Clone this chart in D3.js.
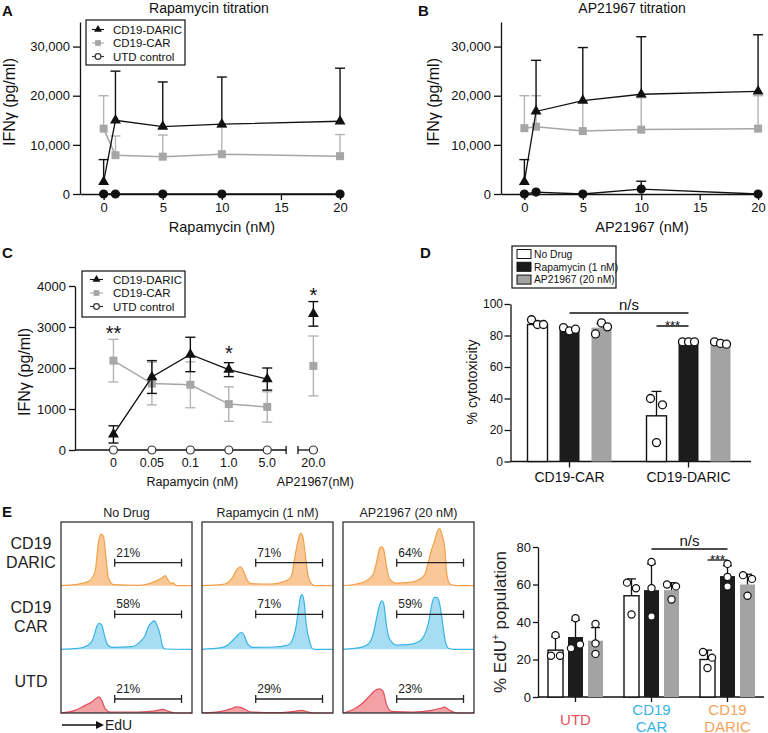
<!DOCTYPE html>
<html><head><meta charset="utf-8">
<script src="https://cdn.jsdelivr.net/npm/d3@7"></script>
<style>body{margin:0;background:#fff}svg{display:block}</style>
</head><body><svg id="c" width="768" height="733"></svg>
<script>
// ---------------- DATA ----------------
const seriesNames = ["CD19-DARIC", "CD19-CAR", "UTD control"];
const yTicksAB = [0, 10000, 20000, 30000];
const xTicksAB = [0, 5, 10, 15, 20];
// Panel A: rapamycin titration (mean, SD)
const concA = [0, 1, 5, 10, 20];
const darA = [2500, 15000, 13700, 14200, 14800];
const darAsd = [4500, 10000, 9100, 9600, 10800];
const carA = [13300, 7900, 7600, 8100, 7700];
const carAsd = [6700, 3900, 4400, 5500, 4400];
const utdA = [0, 0, 0, 0, 0];
const utdAsd = [0, 0, 0, 0, 0];
// Panel B: AP21967 titration
const concB = [0, 1, 5, 10, 20];
const darB = [2500, 16800, 19000, 20300, 20900];
const darBsd = [4500, 10400, 10800, 11700, 11500];
const carB = [13400, 13700, 12800, 13100, 13300];
const carBsd = [6600, 6300, 6000, 6500, 6700];
const utdB = [0, 400, 0, 1000, 0];
const utdBsd = [0, 0, 0, 1600, 0];
// Panel C
const catsC = ["0", "0.05", "0.1", "1.0", "5.0", "20.0"];
const yTicksC = [0, 1000, 2000, 3000, 4000];
const darC = [380, 1780, 2330, 1960, 1730, 3320];
const darCsd = [210, 400, 420, 170, 270, 300];
const carC = [2180, 1620, 1590, 1120, 1050, 2050];
const carCsd = [520, 520, 560, 420, 370, 730];
const utdC = [0, 0, 0, 0, 0, 0];
const starsC = ["**", "", "", "*", "", "*"];
// Panel D
const condNames = ["No Drug", "Rapamycin (1 nM)", "AP21967 (20 nM)"];
const groupsD = ["CD19-CAR", "CD19-DARIC"];
const yTicksD = [0, 20, 40, 60, 80, 100];
const meansD = [[87, 83.5, 85], [29, 75.5, 75]];
const sdD = [[2, 1.2, 2.5], [15.5, 0.6, 0.8]];
const pointsD = [
  [[90, 87, 87], [85, 83, 84], [81, 88, 85.5]],
  [[40, 36, 12], [76, 76, 76], [76, 75, 74.5]]
];
// Panel E histograms
const histCols = ["No Drug", "Rapamycin (1 nM)", "AP21967 (20 nM)"];
const histRows = [["CD19", "DARIC"], ["CD19", "CAR"], ["UTD"]];
const gatePct = [[21, 71, 64], [58, 71, 59], [21, 29, 23]];
const histDaricND = [[0,0],[10.7,1.5],[21,6.7],[26,22],[28.6,68],[30.4,81],[32.4,78],[34.2,47],[36.2,12],[40,1.5],[59,0.5],[72,6.7],[77,12],[79.6,16],[81.6,9],[84,4],[86,4],[87.8,0],[100,0]];
const histCarND = [[0,0],[13.3,1.6],[20.9,6.8],[24.7,17.4],[27.3,35.8],[29.1,41],[31.1,38],[33.2,22],[35.7,6.8],[38.8,3.2],[54,4.2],[60.5,12],[64.3,22],[66.8,35.8],[69.4,42.6],[71.4,44.7],[73.2,38.4],[75.8,22],[77.6,4.2],[79.6,0.5],[100,0]];
const histUtdND = [[0,0],[10.7,4.2],[18.4,12],[23.5,17.4],[27.3,23.7],[29.1,25.3],[31.1,20],[33.7,6.8],[37.5,1.6],[59.2,1.6],[72,3.2],[77.6,5.8],[82.1,2.6],[87.2,0],[100,0]];
const histDaricRap = [[0,0],[14.8,1.5],[19.8,5.1],[23.7,14.4],[26.2,24.6],[29.3,29.7],[31.3,24.6],[33.8,11.8],[37.7,3.1],[52.9,2.6],[63.1,6.7],[68.2,14.4],[70.7,42.6],[73.3,70.8],[75.3,82.6],[77.1,75.9],[78.9,47.7],[80.9,16.9],[83.5,3.1],[86,0],[100,0]];
const histCarRap = [[0,0],[14.8,2.6],[19.8,6.8],[23.7,14.7],[27.5,22.6],[30,26.8],[32.1,22.6],[34.6,9.5],[38.9,3.2],[55.5,3.7],[65.6,6.8],[69.5,17.4],[72,38.4],[73.8,64.7],[75.3,83],[76.3,85.8],[77.9,75.3],[79.6,38.4],[82.2,12],[84,1.6],[86,0],[100,0]];
const histUtdRap = [[0,0],[14.8,2.6],[22.4,6.8],[26.2,9.5],[30,8.4],[32.6,5.8],[37.7,1.6],[58,0.5],[70.7,2.6],[76.3,4.2],[80.9,1.6],[86,0],[100,0]];
const histDaricAP = [[0,0],[10.2,2.6],[17.9,7.7],[23,17.9],[25.5,35.9],[27.6,56.4],[29.3,61.5],[31.1,56.4],[33.2,30.8],[35.7,10.3],[40.8,4.1],[51,5.1],[58.7,10.3],[62.5,17.9],[65,35.9],[67.6,56.4],[70.2,71.8],[71.9,84.6],[73.5,89.7],[75.3,82],[77.8,56.4],[79.1,20.5],[81.6,2.6],[86.7,0],[100,0]];
const histCarAP = [[0,0],[12.8,2.6],[19.1,7.9],[23,23.7],[25.5,47.4],[28.1,71],[29.8,76.3],[31.4,68.4],[33.2,36.8],[35.7,15.8],[40.8,6.8],[51,7.9],[58.7,13.2],[62.5,23.7],[65,39.5],[67.6,68.4],[69.6,81.6],[71.4,81.6],[73.5,73.7],[75.3,52.6],[77.8,15.8],[80.4,1.6],[84.2,0],[100,0]];
const histUtdAP = [[0,0],[7.7,5.4],[15.3,16.2],[20.4,27],[24.2,35],[28.1,37.8],[30.6,34],[33.2,13.5],[37,2.7],[53.6,1.6],[66.3,3.8],[74,7],[77.8,9.2],[80.4,5.4],[84.2,1.6],[88,0],[100,0]];
const histData = [
  [histDaricND, histDaricRap, histDaricAP],
  [histCarND, histCarRap, histCarAP],
  [histUtdND, histUtdRap, histUtdAP]
];
const gateRange = [41, 92];
// Panel E bar chart
const groupsE = ["UTD", "CD19 CAR", "CD19 DARIC"];
const yTicksE = [0, 20, 40, 60, 80];
const meansE = [[25, 32, 30], [54, 57, 57], [20, 64.5, 60]];
const sdE = [[7, 9, 7], [9, 14, 4], [5, 5.5, 5.5]];
const pointsE = [
  [[33, 22, 22], [26, 42, 28], [39, 28.6, 23]],
  [[61, 58, 44], [72, 58, 43], [60, 59, 52]],
  [[24, 21, 15.5], [71, 64, 59], [65, 63, 54]]
];

// ---------------- STYLE ----------------
const F = '"Liberation Sans", Arial, Helvetica, sans-serif';
const INK = "#111";
const CARGRAY = "#a6a6a6", CARERR = "#b4b4b4";
const rowColors = [
  {fill: "#f9c896", stroke: "#f2a04a"},
  {fill: "#a6ddf3", stroke: "#38b4e4"},
  {fill: "#f3a1a5", stroke: "#e0515c"}
];
const labColorsE = ["#e8525c", "#38b4e4", "#f4a35a"];
const barFills = ["#fff", "#1c1c1c", "#a3a3a3"];

const svg = d3.select("#c");

function txt(g, x, y, s, size, o = {}) {
  const t = g.append("text").attr("x", x).attr("y", y)
    .attr("font-size", size).attr("font-family", o.family || F)
    .attr("fill", o.fill || INK).attr("text-anchor", o.anchor || "middle").text(s);
  if (o.weight) t.attr("font-weight", o.weight);
  if (o.rotate) t.attr("transform", `rotate(-90,${x},${y})`);
  return t;
}
function styleAxis(g, size) {
  g.attr("font-family", F).attr("font-size", size);
  g.selectAll("path,line").attr("stroke", INK).attr("stroke-width", 1.3);
  g.selectAll("text").attr("fill", INK);
}
function marker(g, cx, cy, type, fill, stroke, k = 1) {
  if (type === "triangle") {
    g.append("path").attr("d", d3.symbol(d3.symbolTriangle, 52 * k * k)())
      .attr("transform", `translate(${cx},${cy})`).attr("fill", fill);
  } else if (type === "square") {
    const s = 8 * k;
    g.append("rect").attr("x", cx - s / 2).attr("y", cy - s / 2).attr("width", s).attr("height", s).attr("fill", fill);
  } else {
    g.append("circle").attr("cx", cx).attr("cy", cy).attr("r", 4 * k)
      .attr("fill", fill).attr("stroke", stroke || fill).attr("stroke-width", 1.2);
  }
}
function series(g, xs, y, vals, sds, s) {
  const pts = vals.map((v, i) => ({x: xs[i], v, sd: sds ? sds[i] : 0}));
  pts.forEach(p => {
    if (!p.sd) return;
    const top = y(p.v + p.sd), bot = s.up ? y(p.v) : y(p.v - p.sd);
    g.append("line").attr("x1", p.x).attr("x2", p.x).attr("y1", bot).attr("y2", top)
      .attr("stroke", s.err).attr("stroke-width", 1.4);
    g.append("line").attr("x1", p.x - 5).attr("x2", p.x + 5).attr("y1", top).attr("y2", top)
      .attr("stroke", s.err).attr("stroke-width", 1.4);
    if (!s.up) g.append("line").attr("x1", p.x - 5).attr("x2", p.x + 5).attr("y1", bot).attr("y2", bot)
      .attr("stroke", s.err).attr("stroke-width", 1.4);
  });
  g.append("path").attr("d", d3.line().x(p => p.x).y(p => y(p.v))(pts))
    .attr("fill", "none").attr("stroke", s.line).attr("stroke-width", s.lw || 1.3);
  pts.forEach(p => marker(g, p.x, y(p.v), s.sym, s.fill, s.stroke));
}
function lineLegend(g, x, y, w, h, rowY, lineX, textX, size) {
  g.append("rect").attr("x", x).attr("y", y).attr("width", w).attr("height", h)
    .attr("fill", "#fff").attr("stroke", INK).attr("stroke-width", 1.2);
  const specs = [
    {sym: "triangle", fill: INK, line: INK},
    {sym: "square", fill: CARGRAY, line: CARGRAY},
    {sym: "circle", fill: "#fff", stroke: "#333", line: "#333"}
  ];
  seriesNames.forEach((n, i) => {
    const yy = rowY[i];
    g.append("line").attr("x1", lineX[0]).attr("x2", lineX[1]).attr("y1", yy).attr("y2", yy)
      .attr("stroke", specs[i].line).attr("stroke-width", 1.1);
    marker(g, (lineX[0] + lineX[1]) / 2, yy, specs[i].sym, specs[i].fill, specs[i].stroke, 0.72);
    txt(g, textX, yy, n, size, {anchor: "start"}).attr("dy", "0.36em");
  });
}
function dodge(vals, y, thr, width) {
  const n = vals.length, parent = d3.range(n);
  const find = i => parent[i] === i ? i : (parent[i] = find(parent[i]));
  for (let i = 0; i < n; i++) for (let j = i + 1; j < n; j++)
    if (Math.abs(y(vals[i]) - y(vals[j])) < thr) parent[find(i)] = find(j);
  const groups = d3.group(d3.range(n), i => find(i));
  const off = new Array(n).fill(0);
  groups.forEach(idx => {
    const m = idx.length;
    if (m > 1) idx.forEach((i, k) => off[i] = -width / 2 + k * width / (m - 1));
  });
  return off;
}

// ---------------- PANELS A & B ----------------
function titration(o) {
  const x = d3.scaleLinear([-2, 20.25], [o.left, o.right]);
  const y = d3.scaleLinear([0, 35000], [194, 22]);
  const g = svg.append("g");
  g.append("g").attr("transform", `translate(${o.left},0)`)
    .call(d3.axisLeft(y).tickValues(yTicksAB).tickFormat(d3.format(",")).tickSize(7).tickSizeOuter(0))
    .call(styleAxis, 13);
  g.append("g").attr("transform", "translate(0,194)")
    .call(d3.axisBottom(x).tickValues(xTicksAB).tickSize(6).tickSizeOuter(0))
    .call(styleAxis, 13);
  txt(g, o.titleX, 13, o.title, 14);
  txt(g, o.xlabX, 232, o.xlabel, 14.5);
  txt(g, o.ylabX, 102, "IFNγ (pg/ml)", 16, {rotate: true});
  const xs = o.conc.map(c => x(c));
  series(g, xs, y, o.car, o.carSd, {line: CARGRAY, err: CARERR, sym: "square", fill: CARGRAY, up: true, lw: 1.5});
  series(g, xs, y, o.dar, o.darSd, {line: INK, err: INK, sym: "triangle", fill: INK, up: true});
  series(g, xs, y, o.utd, o.utdSd, {line: INK, err: INK, sym: "circle", fill: INK, up: true});
  return g;
}
const gA = titration({left: 80, right: 343, conc: concA, dar: darA, darSd: darAsd, car: carA, carSd: carAsd,
  utd: utdA, utdSd: utdAsd, title: "Rapamycin titration", titleX: 209, xlabel: "Rapamycin (nM)", xlabX: 222, ylabX: 15});
lineLegend(gA, 86, 20, 99, 45, [29.5, 43, 56.5], [92, 104], 113, 11.5);
titration({left: 501, right: 761, conc: concB, dar: darB, darSd: darBsd, car: carB, carSd: carBsd,
  utd: utdB, utdSd: utdBsd, title: "AP21967 titration", titleX: 632, xlabel: "AP21967 (nM)", xlabX: 642, ylabX: 439});
txt(svg, 2, 16, "A", 15, {anchor: "start", weight: "bold"});
txt(svg, 418, 16, "B", 15, {anchor: "start", weight: "bold"});

// ---------------- PANEL C ----------------
{
  const g = svg.append("g");
  const xC = d3.scaleLinear([-1, 5.32], [75, 318]);
  const yC = d3.scaleLinear([0, 4000], [450, 286]);
  const posC = i => i < 5 ? i : i + 0.2;
  g.append("g").attr("transform", `translate(${xC(-1)},0)`)
    .call(d3.axisLeft(yC).tickValues(yTicksC).tickFormat(d3.format("d")).tickSize(6).tickSizeOuter(0))
    .call(styleAxis, 13);
  const y0 = yC(0);
  const ax = [[-1, 4.49], [4.8, 5.32]];
  ax.forEach(([a, b]) => g.append("line").attr("x1", xC(a)).attr("x2", xC(b)).attr("y1", y0).attr("y2", y0)
    .attr("stroke", INK).attr("stroke-width", 1.3));
  [4.49, 4.8].forEach(b => g.append("line").attr("x1", xC(b)).attr("x2", xC(b)).attr("y1", y0 - 4).attr("y2", y0 + 4)
    .attr("stroke", INK).attr("stroke-width", 1.3));
  catsC.forEach((c, i) => txt(g, xC(posC(i)), 467, c, 12.5));
  txt(g, (xC(0) + xC(4)) / 2 + 2, 486, "Rapamycin (nM)", 12.5);
  txt(g, xC(posC(5)) + 2, 486, "AP21967(nM)", 12.5);
  txt(g, 30, 372, "IFNγ (pg/ml)", 16, {rotate: true});
  const xs = catsC.map((c, i) => xC(posC(i)));
  const idx5 = [0, 1, 2, 3, 4];
  series(g, idx5.map(i => xs[i]), yC, idx5.map(i => carC[i]), idx5.map(i => carCsd[i]),
    {line: CARGRAY, err: CARERR, sym: "square", fill: CARGRAY, lw: 1.5});
  series(g, [xs[5]], yC, [carC[5]], [carCsd[5]], {line: CARGRAY, err: CARERR, sym: "square", fill: CARGRAY});
  series(g, idx5.map(i => xs[i]), yC, idx5.map(i => darC[i]), idx5.map(i => darCsd[i]),
    {line: INK, err: INK, sym: "triangle", fill: INK});
  series(g, [xs[5]], yC, [darC[5]], [darCsd[5]], {line: INK, err: INK, sym: "triangle", fill: INK});
  xs.forEach((x, i) => marker(g, x, yC(utdC[i]), "circle", "#fff", "#333"));
  const starY = [340, 0, 0, 360, 0, 302];
  starsC.forEach((s, i) => { if (s) txt(g, xs[i], starY[i], s, 20); });
  lineLegend(g, 82, 271, 103, 46, [279.5, 293, 306.5], [90, 103], 113, 11.5);
  txt(svg, 2, 258, "C", 15, {anchor: "start", weight: "bold"});
}

// ---------------- PANEL D ----------------
{
  const g = svg.append("g");
  const yD = d3.scaleLinear([0, 100], [461.5, 304]);
  const xD = d3.scaleBand(groupsD, [510, 748]);
  const sub = d3.scaleBand(condNames, [-48, 48]).paddingInner(0.375).paddingOuter(0.1875);
  g.append("g").attr("transform", "translate(510.5,0)")
    .call(d3.axisLeft(yD).tickValues(yTicksD).tickSize(6).tickPadding(1.5).tickSizeOuter(0))
    .call(styleAxis, 12);
  const xa = g.append("g").attr("transform", `translate(0,${yD(0)})`)
    .call(d3.axisBottom(xD).tickSize(6).tickPadding(5).tickSizeOuter(0))
    .call(styleAxis, 14);
  xa.select(".domain").attr("d", `M510.5,0H751`);
  txt(g, 477, 382, "% cytotoxicity", 14, {rotate: true});
  groupsD.forEach((gr, gi) => {
    condNames.forEach((cn, ci) => {
      const cx = xD(gr) + xD.bandwidth() / 2 + sub(cn) + sub.bandwidth() / 2;
      const bw = sub.bandwidth(), m = meansD[gi][ci], sd = sdD[gi][ci];
      g.append("rect").attr("x", cx - bw / 2).attr("y", yD(m)).attr("width", bw).attr("height", yD(0) - yD(m))
        .attr("fill", barFills[ci]).attr("stroke", ci === 0 ? INK : "none").attr("stroke-width", 1.4);
      g.append("line").attr("x1", cx).attr("x2", cx).attr("y1", yD(m)).attr("y2", yD(m + sd)).attr("stroke", INK).attr("stroke-width", 1.3);
      g.append("line").attr("x1", cx - 5).attr("x2", cx + 5).attr("y1", yD(m + sd)).attr("y2", yD(m + sd)).attr("stroke", INK).attr("stroke-width", 1.3);
      const pv = pointsD[gi][ci], off = dodge(pv, yD, 8, 12);
      pv.forEach((v, k) => g.append("circle").attr("cx", cx + off[k]).attr("cy", yD(v)).attr("r", 4)
        .attr("fill", "#fff").attr("stroke", INK).attr("stroke-width", 1.3));
    });
  });
  const cxOf = (gi, ci) => xD(groupsD[gi]) + xD.bandwidth() / 2 + sub(condNames[ci]) + sub.bandwidth() / 2;
  g.append("line").attr("x1", cxOf(0, 1)).attr("x2", cxOf(1, 1)).attr("y1", 313).attr("y2", 313).attr("stroke", INK).attr("stroke-width", 1.3);
  txt(g, (cxOf(0, 1) + cxOf(1, 1)) / 2, 310, "n/s", 15);
  g.append("line").attr("x1", cxOf(1, 0)).attr("x2", cxOf(1, 1)).attr("y1", 326).attr("y2", 326).attr("stroke", INK).attr("stroke-width", 1.3);
  txt(g, (cxOf(1, 0) + cxOf(1, 1)) / 2, 330, "***", 13);
  g.append("rect").attr("x", 512).attr("y", 246).attr("width", 104).attr("height", 42)
    .attr("fill", "#fff").attr("stroke", INK).attr("stroke-width", 1.2);
  condNames.forEach((cn, i) => {
    const yy = 254 + i * 12.8;
    g.append("rect").attr("x", 517).attr("y", yy - 4.5).attr("width", 14).attr("height", 9)
      .attr("fill", barFills[i]).attr("stroke", INK).attr("stroke-width", 1);
    txt(g, 534, yy, cn, 10.3, {anchor: "start"}).attr("dy", "0.36em");
  });
  txt(svg, 420, 258, "D", 15, {anchor: "start", weight: "bold"});
}

// ---------------- PANEL E histograms ----------------
{
  const g = svg.append("g");
  const colX = d3.scaleBand(histCols, [61, 474]).paddingInner(0.0709);
  const rowY = d3.scaleBand(d3.range(3), [522, 713]);
  const gateLift = [23, 35, 14];
  histCols.forEach((c, ci) => {
    const x = d3.scaleLinear([0, 100], [colX(c), colX(c) + colX.bandwidth()]);
    txt(g, x(50), 517, c, 12.5, {fill: "#222"});
    histRows.forEach((r, ri) => {
      const base = rowY(ri) + rowY.bandwidth();
      const y = d3.scaleLinear([0, 100], [base, rowY(ri)]);
      const d = histData[ri][ci];
      g.append("path").attr("d", d3.area().x(p => x(p[0])).y0(base).y1(p => y(p[1])).curve(d3.curveMonotoneX)(d))
        .attr("fill", rowColors[ri].fill);
      g.append("path").attr("d", d3.line().x(p => x(p[0])).y(p => y(p[1])).curve(d3.curveMonotoneX)(d))
        .attr("fill", "none").attr("stroke", rowColors[ri].stroke).attr("stroke-width", 1.2);
      const gy = base - gateLift[ri];
      const gx0 = x(gateRange[0]), gx1 = x(gateRange[1]);
      g.append("line").attr("x1", gx0).attr("x2", gx1).attr("y1", gy).attr("y2", gy).attr("stroke", "#222").attr("stroke-width", 1.3);
      [gx0, gx1].forEach(gx => g.append("line").attr("x1", gx).attr("x2", gx).attr("y1", gy - 4).attr("y2", gy + 4)
        .attr("stroke", "#222").attr("stroke-width", 1.3));
      txt(g, gx0 + 1.5, gy - 6, gatePct[ri][ci] + "%", 12, {anchor: "start", fill: "#222"});
    });
    g.append("rect").attr("x", colX(c)).attr("y", 522).attr("width", colX.bandwidth()).attr("height", 191)
      .attr("fill", "none").attr("stroke", "#333").attr("stroke-width", 1.3);
  });
  histRows.forEach((r, ri) => {
    const cy = rowY(ri) + rowY.bandwidth() / 2;
    if (r.length === 2) {
      txt(g, 31, cy - 4.5, r[0], 16, {fill: "#222"});
      txt(g, 31, cy + 14.5, r[1], 16, {fill: "#222"});
    } else txt(g, 31, cy + 5.5, r[0], 16, {fill: "#222"});
  });
  g.append("line").attr("x1", 62).attr("x2", 97).attr("y1", 725).attr("y2", 725).attr("stroke", INK).attr("stroke-width", 1.3);
  g.append("path").attr("d", "M96,721L104,725L96,729Z").attr("fill", INK);
  txt(g, 105, 730, "EdU", 14, {anchor: "start", fill: "#222"});
  txt(svg, 2, 517, "E", 15, {anchor: "start", weight: "bold"});
}

// ---------------- PANEL E bar chart ----------------
{
  const g = svg.append("g");
  const yE = d3.scaleLinear([0, 80], [697, 547]);
  const xE = d3.scaleBand(groupsE, [537.5, 765.5]);
  const sub = d3.scaleBand(condNames, [-30, 30]).paddingInner(0.25).paddingOuter(0.125);
  g.append("g").attr("transform", "translate(538,0)")
    .call(d3.axisLeft(yE).tickValues(yTicksE).tickSize(5).tickPadding(2).tickSizeOuter(0))
    .call(styleAxis, 13);
  const xa = g.append("g").attr("transform", `translate(0,${yE(0)})`)
    .call(d3.axisBottom(xE).tickSize(5).tickFormat("").tickSizeOuter(0))
    .call(styleAxis, 13);
  xa.select(".domain").attr("d", "M538,0H764");
  const ylab = txt(g, 506, 622, "% EdU", 17, {rotate: true, fill: "#222"});
  ylab.append("tspan").attr("dy", -7).attr("font-size", 10).text("+");
  ylab.append("tspan").attr("dy", 7).text(" population");
  groupsE.forEach((gr, gi) => {
    const gc = xE(gr) + xE.bandwidth() / 2;
    const parts = gr.split(" ");
    if (parts.length === 1) txt(g, gc, 725, parts[0], 15, {fill: labColorsE[gi]});
    else {
      txt(g, gc, 715, parts[0], 15, {fill: labColorsE[gi]});
      txt(g, gc, 731.5, parts[1], 15, {fill: labColorsE[gi]});
    }
    condNames.forEach((cn, ci) => {
      const cx = gc + sub(cn) + sub.bandwidth() / 2;
      const bw = sub.bandwidth(), m = meansE[gi][ci], sd = sdE[gi][ci];
      g.append("rect").attr("x", cx - bw / 2).attr("y", yE(m)).attr("width", bw).attr("height", yE(0) - yE(m))
        .attr("fill", barFills[ci]).attr("stroke", ci === 0 ? INK : "none").attr("stroke-width", 1.4);
      g.append("line").attr("x1", cx).attr("x2", cx).attr("y1", yE(m)).attr("y2", yE(m + sd)).attr("stroke", INK).attr("stroke-width", 1.3);
      g.append("line").attr("x1", cx - 4.5).attr("x2", cx + 4.5).attr("y1", yE(m + sd)).attr("y2", yE(m + sd)).attr("stroke", INK).attr("stroke-width", 1.3);
      const pv = pointsE[gi][ci], off = dodge(pv, yE, 8, 9);
      pv.forEach((v, k) => g.append("circle").attr("cx", cx + off[k]).attr("cy", yE(v)).attr("r", 3.6)
        .attr("fill", "#fff").attr("stroke", INK).attr("stroke-width", 1.2));
    });
  });
  const cxOf = (gi, ci) => xE(groupsE[gi]) + xE.bandwidth() / 2 + sub(condNames[ci]) + sub.bandwidth() / 2;
  g.append("line").attr("x1", cxOf(1, 1)).attr("x2", cxOf(2, 1)).attr("y1", 549).attr("y2", 549).attr("stroke", INK).attr("stroke-width", 1.3);
  txt(g, (cxOf(1, 1) + cxOf(2, 1)) / 2, 546, "n/s", 15);
  g.append("line").attr("x1", cxOf(2, 0)).attr("x2", cxOf(2, 1)).attr("y1", 560).attr("y2", 560).attr("stroke", INK).attr("stroke-width", 1.3);
  txt(g, (cxOf(2, 0) + cxOf(2, 1)) / 2, 564, "***", 13);
}
</script></body></html>
